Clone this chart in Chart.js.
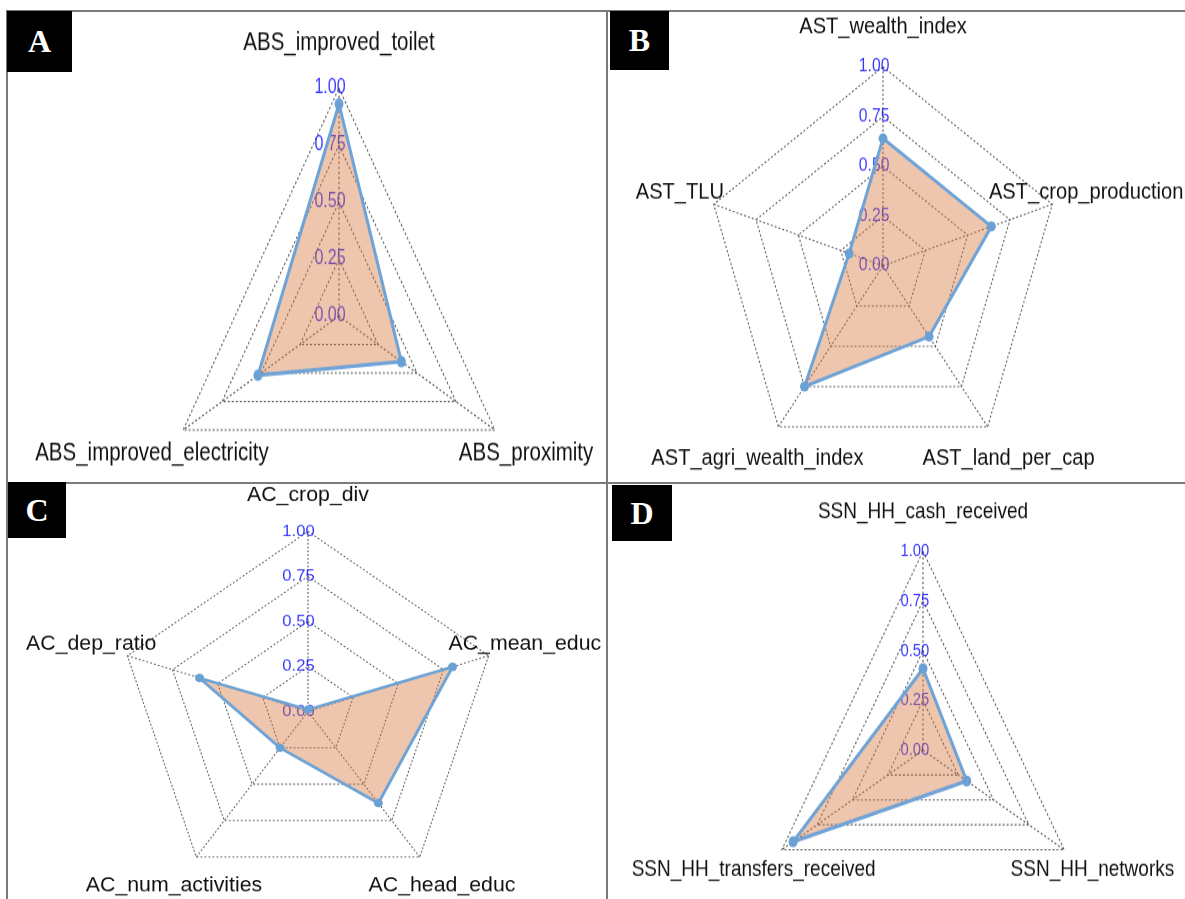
<!DOCTYPE html>
<html>
<head>
<meta charset="utf-8">
<script src="https://cdn.jsdelivr.net/npm/chart.js@4.4.1/dist/chart.umd.min.js"></script>
<style>
  body { margin: 0; background: #fff; }
  #fig { position: relative; width: 1185px; height: 899px; overflow: hidden; background: #fff; }
  .panel { position: absolute; overflow: hidden; }
  .panel canvas { position: absolute; left: 0; top: 0; transform-origin: 0 0; }
  .rule { position: absolute; background: #7a7a7a; }
  .tag { position: absolute; background: #000; color: #fff; font: bold 32px "Liberation Serif", "Times New Roman", serif;
         display: flex; align-items: center; justify-content: center; z-index: 5; }
</style>
</head>
<body>
<div id="fig">
  <div class="panel" id="pA" style="left:8px;top:12px;width:599px;height:471px"><canvas id="chartA"></canvas></div>
  <div class="panel" id="pB" style="left:608px;top:12px;width:577px;height:471px"><canvas id="chartB"></canvas></div>
  <div class="panel" id="pC" style="left:8px;top:484px;width:599px;height:415px"><canvas id="chartC"></canvas></div>
  <div class="panel" id="pD" style="left:608px;top:484px;width:577px;height:415px"><canvas id="chartD"></canvas></div>

  <div class="rule" style="left:6px;top:10px;width:1179px;height:2px"></div>
  <div class="rule" style="left:6px;top:10px;width:2px;height:889px"></div>
  <div class="rule" style="left:606px;top:10px;width:2px;height:889px"></div>
  <div class="rule" style="left:6px;top:482px;width:1179px;height:2px"></div>

  <div class="tag" style="left:7px;top:11px;width:65px;height:61px">A</div>
  <div class="tag" style="left:610px;top:11px;width:59px;height:59px">B</div>
  <div class="tag" style="left:8px;top:482px;width:58px;height:56px">C</div>
  <div class="tag" style="left:612px;top:485px;width:60px;height:56px">D</div>
</div>
<script>
// data (axes listed clockwise from the top)
const panelALabels = ['ABS_improved_toilet', 'ABS_proximity', 'ABS_improved_electricity'];
const panelAValues = [0.93, 0.40, 0.52];

const panelBLabels = ['AST_wealth_index', 'AST_crop_production', 'AST_land_per_cap', 'AST_agri_wealth_index', 'AST_TLU'];
const panelBValues = [0.64, 0.64, 0.44, 0.75, 0.20];

const panelCLabels = ['AC_crop_div', 'AC_mean_educ', 'AC_head_educ', 'AC_num_activities', 'AC_dep_ratio'];
const panelCValues = [0.01, 0.80, 0.63, 0.25, 0.60];

const panelDLabels = ['SSN_HH_cash_received', 'SSN_HH_networks', 'SSN_HH_transfers_received'];
const panelDValues = [0.41, 0.31, 0.92];

const tickValues = [0, 0.25, 0.5, 0.75, 1];
const tickLabels = ['0.00', '0.25', '0.50', '0.75', '1.00'];

// labels and tick text drawn the fmsb way
const radarText = {
    id: 'radarText',
    beforeDatasetsDraw(chart, args, opts) {
        const r = chart.scales.r;
        const ctx = chart.ctx;
        ctx.save();
        ctx.font = (opts.size * 0.78).toFixed(1) + 'px "Liberation Sans", Arial, sans-serif';
        ctx.fillStyle = 'rgba(20, 20, 255, 0.85)';
        ctx.textAlign = 'center';
        ctx.textBaseline = 'middle';
        tickValues.forEach((v, i) => {
            const p = r.getPointPositionForValue(0, v);
            ctx.fillText(tickLabels[i], p.x - 0.05 * r.drawingArea, p.y);
        });
        ctx.restore();
    },
    afterDraw(chart, args, opts) {
        const r = chart.scales.r;
        const ctx = chart.ctx;
        ctx.save();
        ctx.font = opts.size + 'px "Liberation Sans", Arial, sans-serif';
        ctx.fillStyle = '#111';
        ctx.textAlign = 'center';
        ctx.textBaseline = 'middle';
        chart.data.labels.forEach((lab, i) => {
            const p = r.getPointPosition(i, 1.2 * r.drawingArea);
            ctx.fillText(lab, p.x, p.y);
        });
        ctx.restore();
    }
};

// panel placement: box [left, top, width, height], centre and radii on the page
const panels = [
    { id: 'chartA', labels: panelALabels, values: panelAValues, box: [8, 12, 599, 471], center: [339, 316], rx: 180, ry: 228, font: 20.5 },
    { id: 'chartB', labels: panelBLabels, values: panelBValues, box: [608, 12, 577, 471], center: [883, 266], rx: 178, ry: 199, font: 20.1 },
    { id: 'chartC', labels: panelCLabels, values: panelCValues, box: [8, 484, 599, 415], center: [308, 712], rx: 190, ry: 180, font: 21.3 },
    { id: 'chartD', labels: panelDLabels, values: panelDValues, box: [608, 484, 577, 415], center: [923, 751], rx: 163, ry: 199, font: 19.0 }
];

panels.forEach(p => {
    const [L, T, W, H] = p.box;
    const s = p.ry / p.rx;
    const cx = p.center[0] - L;
    const cy = (p.center[1] - T) / s;
    const Hc = Math.ceil(Math.max(H / s, cy + p.rx + 4));
    const canvas = document.getElementById(p.id);
    canvas.width = W;
    canvas.height = Hc;
    canvas.style.width = W + 'px';
    canvas.style.height = Hc + 'px';
    canvas.style.transform = 'scaleY(' + s + ')';

    new Chart(canvas.getContext('2d'), {
        type: 'radar',
        data: {
            labels: p.labels,
            datasets: [{
                data: p.values,
                borderColor: '#6fa3d6',
                borderWidth: 3,
                backgroundColor: 'rgba(215, 120, 60, 0.42)',
                fill: true,
                pointRadius: 4.5,
                pointBackgroundColor: '#6aa0d4',
                pointBorderColor: '#6aa0d4',
                pointBorderWidth: 0,
                tension: 0,
                clip: false
            }]
        },
        options: {
            responsive: false,
            animation: false,
            devicePixelRatio: 1,
            layout: {
                padding: { left: cx - p.rx, right: W - cx - p.rx, top: cy - p.rx, bottom: Hc - cy - p.rx }
            },
            plugins: {
                legend: { display: false },
                tooltip: { enabled: false },
                radarText: { size: p.font }
            },
            scales: {
                r: {
                    min: 0,
                    max: 1,
                    ticks: { display: false, stepSize: 0.25 },
                    pointLabels: { display: false },
                    grid: { color: '#5c5c5c', lineWidth: 1.1, borderDash: [2, 2] },
                    border: { dash: [2, 2] },
                    angleLines: { color: '#5c5c5c', lineWidth: 1.1, borderDash: [2, 2] }
                }
            }
        },
        plugins: [radarText]
    });
});
</script>
</body>
</html>
